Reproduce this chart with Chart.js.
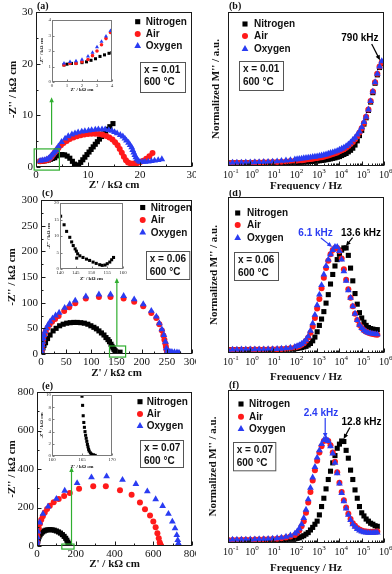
<!DOCTYPE html>
<html>
<head>
<meta charset="utf-8">
<script src="https://cdn.jsdelivr.net/npm/chart.js@4.4.1/dist/chart.umd.min.js"></script>
<style>
  body { margin: 0; background: #fff; }
  #wrap { position: relative; width: 392px; height: 574px; overflow: hidden; background: #fff; }
  #wrap canvas { position: absolute; }
</style>
</head>
<body>
<div id="wrap"></div>
<script>
// ====== DATA: Nyquist plots (Z' , -Z'' in kOhm cm) ======
// (a) x = 0.01
const a_nitrogen_x = [0.8,1.2,1.6,2.0,2.4,2.8,3.2,3.6,4.0,4.5,5.0,5.5,6.0,6.5,7.0,7.4,7.8,8.2,8.6,9.0,9.4,9.8,10.2,10.6,11.0,11.4,11.8,12.2,12.6,13.0,13.4,13.8,14.2,14.8];
const a_nitrogen_y = [1.1,1.15,1.2,1.25,1.35,1.5,1.65,1.8,2.15,2.35,2.4,2.35,2.1,1.7,1.1,0.55,0.1,0.4,0.9,1.4,1.9,2.4,2.9,3.4,3.9,4.4,4.9,5.4,5.9,6.4,6.9,7.3,7.8,8.4];
const a_air_x = [0.8,1.2,1.6,2.0,2.4,2.7,3.0,3.3,3.6,3.9,4.3,4.8,5.3,5.9,6.5,7.2,7.9,8.6,9.3,10.0,10.7,11.4,12.1,12.8,13.5,14.1,14.7,15.2,15.7,16.1,16.5,16.9,17.3,17.7,18.2,18.8,19.4,20.0,20.6,21.2,21.8,22.4];
const a_air_y = [1.1,1.2,1.2,1.3,1.45,1.7,2.0,2.4,2.8,3.2,3.7,4.2,4.65,5.05,5.4,5.7,5.95,6.15,6.3,6.4,6.45,6.45,6.4,6.25,6.0,5.7,5.3,4.8,4.2,3.5,2.75,2.0,1.3,0.85,0.7,0.7,0.75,0.9,1.2,1.6,2.1,2.7];
const a_oxygen_x = [0.8,1.2,1.6,2.0,2.4,2.7,3.0,3.3,3.6,3.9,4.3,4.9,5.6,6.2,6.9,7.5,8.1,8.8,9.4,10.1,10.7,11.4,12.0,12.7,13.3,14.0,14.6,15.1,15.6,16.2,16.7,17.1,17.4,17.8,18.1,18.4,18.6,18.8,19.0,19.2,19.4,19.7,20.0,20.5,21.0,21.6,22.2,22.8,23.5,24.2];
const a_oxygen_y = [1.2,1.3,1.35,1.45,1.65,1.9,2.25,2.6,2.95,3.3,4.0,4.85,5.5,5.95,6.3,6.5,6.7,6.85,6.95,7.05,7.15,7.25,7.3,7.3,7.3,7.15,7.0,6.75,6.5,6.2,5.9,5.5,5.1,4.7,4.25,3.8,3.3,2.8,2.3,1.9,1.5,1.2,1.0,1.0,1.0,1.05,1.15,1.25,1.35,1.5];
// inset of (a)
const ai_nitrogen_x = [0.8,1.0,1.3,1.6,2.0,2.3,2.6,2.9,3.2,3.5,3.8,4.0];
const ai_nitrogen_y = [1.1,1.15,1.2,1.2,1.25,1.3,1.4,1.5,1.65,1.75,1.85,1.9];
const ai_air_x = [0.8,1.2,1.6,2.0,2.4,2.7,3.0,3.3,3.6,3.9];
const ai_air_y = [1.1,1.2,1.2,1.3,1.45,1.7,2.0,2.4,2.8,3.2];
const ai_oxygen_x = [0.8,1.2,1.6,2.0,2.4,2.7,3.0,3.3,3.6,3.9];
const ai_oxygen_y = [1.2,1.3,1.35,1.45,1.65,1.9,2.25,2.6,2.95,3.3];

// (c) x = 0.06
const c_nitrogen_x = [2,4,6,9,13,18,24,30,37,44,51,58,65,72,79,86,93,99,105,110,115,120,125,129,133,136,139,141,143,145,147,149,151,153,155,157];
const c_nitrogen_y = [6,12,17,22,30,37,45,50,55,58,60,61,61.5,61.5,61,60,58,55,52,49,45,41,37,32,28,24,19,15,12,9,6.5,4,2.5,1.5,2,3.5];
const c_air_x = [1,1.5,2,2.8,3.8,5,7,9.5,13,17,22,28,35,46,56,68,89,115,138,164,185,203,219,229,235,240,243,245,247,248,249,250,251];
const c_air_y = [3,9,15,21,27,33,39,45,51,57,63,68,74,84,91,99,108,111,111,108,102,93,80,70,58,46,36,28,20,14,9,4,1];
const c_oxygen_x = [1.5,2,2.6,3.5,4.5,6,8,10.5,14,18,23,29,36,47,57,68,89,115,138,164,185,203,219,229,235,240,244,247,249,251,253,256,260,265,270,274];
const c_oxygen_y = [4,11,17.5,24,30.5,37,43.5,50,56.5,63,69.5,75,80.5,90,97,104,112,116,116,113,106.5,97,84,73,60,48,37,24,11,6,5,4.5,4,3.5,3,2.5];
// inset of (c)
const ci_nitrogen_x = [140.2,141.3,142.1,143.1,143.7,144.2,144.8,145.2,145.6,145.3,146.3,147.3,148.4,149.4,150.5,151.5,152.6,153.4,154.3,155.0,155.8,156.4,157.0];
const ci_nitrogen_y = [16,13.4,11.4,9.6,8.2,7.1,6.1,5.4,4.6,3.3,4.0,3.5,3.0,2.6,2.1,1.7,1.3,1.1,1.2,1.6,2.1,2.8,3.5];

// (e) x = 0.07
const e_nitrogen_x = [2,4,7,11,16,22,29,37,46,56,67,78,89,100,111,121,131,140,148,154,159,162,164,165.5,166.5];
const e_nitrogen_y = [12,25,37,48,58,66,73,78,82,84,85,84,82,78,73,67,59,50,40,30,20,12,6,2,0.5];
const e_air_x = [0.5,1,2,4,9,15,22,30,40,52,66,86,112,140,169,217,290,355,428,488,531,557,583,600,612,621,628,633,636,638,640];
const e_air_y = [10,20,49,70,92,115,136,155,174,192,209,227,244,260,275,298,310,310,289,266,226,191,158,127,97,66,40,18,8,3,0.5];
const e_oxygen_x = [0.5,1,2,5,14,31,57,100,143,207,281,359,441,510,569,612,648,678,698,712,721,726,729,732,735];
const e_oxygen_y = [12,25,45,75,122,167,205,245,287,327,357,362,344,322,284,243,208,167,127,92,57,31,14,6,1];
// inset of (e)
const ei_nitrogen_x = [165.0,165.1,165.2,165.3,165.4,165.5,165.6,165.7,165.8,165.9,166.0,166.1,166.2,166.4,166.6,166.9,167.2];
const ei_nitrogen_y = [9.8,8.3,6.6,5.5,4.7,4.0,3.4,2.9,2.4,1.9,1.5,1.1,0.8,0.5,0.3,0.2,0.1];

// ====== DATA: normalized M'' spectra ======
const FREQ = [0.1,0.16,0.25,0.4,0.63,1,1.6,2.5,4,6.3,10,16,25,40,63,
  100,126,158,200,251,316,398,501,631,794,
  1000,1260,1580,2000,2510,3160,3980,5010,6310,7940,
  10000,12600,15800,20000,25100,31600,39800,50100,63100,79400,
  100000,126000,158000,200000,251000,316000,398000,501000];
const FREQ_B = [0.1,0.16,0.25,0.4,0.63,1,1.6,2.5,4,6.3,10,16,25,40,63,
  100,126,158,200,251,316,398,501,631,794,
  1000,1260,1580,2000,2510,3160,3980,5010,6310,7940,
  10000,12600,15800,20000,25100,31600,39800,50100,63100,79400,
  100000,126000,158000,200000,251000,316000,398000,501000,631000,794000];

// (b) x = 0.01
const b_nitrogen = [0.028,0.028,0.028,0.028,0.029,0.029,0.029,0.030,0.030,0.030,0.031,0.031,0.032,0.032,0.033,
  0.034,0.035,0.036,0.037,0.038,0.039,0.040,0.042,0.044,0.046,
  0.048,0.050,0.053,0.056,0.060,0.064,0.068,0.073,0.078,0.084,
  0.090,0.100,0.110,0.120,0.135,0.150,0.170,0.200,0.240,0.290,
  0.340,0.400,0.460,0.530,0.610,0.700,0.790,0.870,0.940,0.980];
const b_air = [0.030,0.030,0.031,0.031,0.032,0.032,0.033,0.034,0.035,0.036,0.037,0.039,0.041,0.044,0.047,
  0.050,0.052,0.054,0.056,0.058,0.061,0.064,0.067,0.070,0.073,
  0.076,0.080,0.084,0.089,0.095,0.101,0.108,0.115,0.122,0.130,
  0.140,0.150,0.160,0.175,0.190,0.210,0.230,0.255,0.285,0.320,
  0.360,0.410,0.470,0.540,0.620,0.710,0.800,0.880,0.950,0.990];
const b_oxygen = [0.032,0.032,0.033,0.033,0.034,0.035,0.036,0.037,0.038,0.040,0.042,0.045,0.049,0.053,0.057,
  0.062,0.065,0.068,0.071,0.074,0.077,0.080,0.083,0.086,0.089,
  0.092,0.096,0.100,0.105,0.110,0.117,0.124,0.130,0.137,0.145,
  0.155,0.165,0.175,0.190,0.205,0.225,0.250,0.270,0.300,0.330,
  0.370,0.420,0.470,0.540,0.620,0.710,0.800,0.880,0.950,1.000];

// (d) x = 0.06
const d_nitrogen = [0.030,0.030,0.030,0.030,0.030,0.030,0.031,0.031,0.031,0.032,0.032,0.033,0.034,0.035,0.037,
  0.040,0.043,0.047,0.052,0.057,0.063,0.075,0.090,0.115,0.150,
  0.200,0.260,0.320,0.390,0.470,0.550,0.650,0.740,0.820,0.880,
  0.930,0.970,0.990,0.990,0.920,0.800,0.680,0.560,0.460,0.380,
  0.330,0.290,0.260,0.240,0.230,0.225,0.220,0.220];
const d_air = [0.030,0.030,0.030,0.031,0.031,0.032,0.032,0.033,0.033,0.034,0.035,0.036,0.038,0.040,0.044,
  0.052,0.058,0.066,0.077,0.092,0.115,0.145,0.190,0.250,0.330,
  0.420,0.510,0.610,0.710,0.800,0.870,0.930,0.970,0.990,0.990,
  0.960,0.890,0.790,0.690,0.600,0.520,0.440,0.370,0.310,0.265,
  0.235,0.215,0.200,0.190,0.183,0.178,0.175,0.173];
const d_oxygen = [0.032,0.032,0.032,0.033,0.033,0.034,0.034,0.035,0.035,0.036,0.037,0.038,0.040,0.044,0.050,
  0.058,0.065,0.073,0.085,0.100,0.125,0.157,0.210,0.280,0.360,
  0.450,0.550,0.640,0.740,0.820,0.880,0.930,0.970,1.000,1.000,
  0.960,0.880,0.770,0.680,0.590,0.520,0.440,0.370,0.310,0.265,
  0.235,0.215,0.200,0.190,0.185,0.180,0.178,0.176];

// (f) x = 0.07
const f_nitrogen = [0.020,0.020,0.020,0.021,0.021,0.021,0.022,0.022,0.023,0.024,0.025,0.026,0.028,0.031,0.035,
  0.040,0.045,0.050,0.060,0.070,0.085,0.100,0.125,0.150,0.180,
  0.210,0.270,0.350,0.430,0.520,0.610,0.690,0.770,0.840,0.910,
  0.950,0.980,0.975,0.890,0.815,0.700,0.610,0.510,0.430,0.350,
  0.290,0.260,0.230,0.210,0.190,0.180,0.166,0.160];
const f_air = [0.030,0.030,0.030,0.031,0.031,0.032,0.033,0.034,0.035,0.036,0.038,0.041,0.046,0.053,0.063,
  0.078,0.095,0.120,0.160,0.210,0.290,0.390,0.490,0.600,0.700,
  0.790,0.870,0.930,0.980,0.990,0.980,0.940,0.870,0.780,0.680,
  0.580,0.490,0.410,0.340,0.280,0.230,0.190,0.165,0.145,0.130,
  0.120,0.113,0.110,0.108,0.107,0.107,0.108,0.110];
const f_oxygen = [0.032,0.032,0.032,0.033,0.033,0.034,0.035,0.036,0.037,0.039,0.042,0.046,0.052,0.060,0.072,
  0.090,0.110,0.140,0.180,0.240,0.320,0.420,0.530,0.630,0.730,
  0.820,0.890,0.950,0.990,1.000,0.980,0.930,0.860,0.770,0.670,
  0.570,0.480,0.400,0.330,0.270,0.220,0.180,0.155,0.135,0.120,
  0.110,0.103,0.100,0.098,0.097,0.098,0.100,0.100];

// ====== STYLE ======
const SERIF = '"Liberation Serif", "Times New Roman", serif';
const SANS = '"Liberation Sans", Arial, sans-serif';
const BLACK = "#000000", RED = "#ff1a1a", BLUE = "#2a3cf2", GREEN = "#2fae2f";
const NAMES = ["Nitrogen", "Air", "Oxygen"];
const MARK = {
  Nitrogen: { style: "rect", color: BLACK, r: 3.6, order: 3 },
  Air: { style: "circle", color: RED, r: 3.0, order: 2 },
  Oxygen: { style: "triangle", color: BLUE, r: 3.9, order: 1 }
};
const Z2 = "-Z'' / k\u03A9 cm", Z1 = "Z' / k\u03A9 cm";
const MT = "Normalized M'' / a.u.", FT = "Frequency / Hz";

function series(name, xs, ys, k) {
  const m = MARK[name];
  k = k || 1;
  return {
    label: name,
    data: xs.map((x, i) => ({ x: x, y: ys[i] })),
    pointStyle: m.style, pointRadius: m.r * k, pointHoverRadius: m.r * k,
    backgroundColor: m.color, borderColor: m.color, borderWidth: 0,
    showLine: false, order: m.order
  };
}

function drawMark(ctx, name, x, y, k) {
  const m = MARK[name], r = m.r * (k || 1);
  ctx.fillStyle = m.color;
  ctx.beginPath();
  if (m.style === "rect") {
    const s = r * Math.SQRT1_2;
    ctx.rect(x - s, y - s, 2 * s, 2 * s);
  } else if (m.style === "circle") {
    ctx.arc(x, y, r, 0, Math.PI * 2);
  } else {
    let a = 0;
    ctx.moveTo(x + Math.sin(a) * r, y - Math.cos(a) * r);
    a += Math.PI * 2 / 3;
    ctx.lineTo(x + Math.sin(a) * r, y - Math.cos(a) * r);
    a += Math.PI * 2 / 3;
    ctx.lineTo(x + Math.sin(a) * r, y - Math.cos(a) * r);
    ctx.closePath();
  }
  ctx.fill();
}

function arrow(ctx, x0, y0, x1, y1, color, h) {
  const a = Math.atan2(y1 - y0, x1 - x0);
  h = h || 5;
  ctx.strokeStyle = color;
  ctx.fillStyle = color;
  ctx.lineWidth = 1.2;
  ctx.beginPath();
  ctx.moveTo(x0, y0);
  ctx.lineTo(x1 - Math.cos(a) * h * 0.8, y1 - Math.sin(a) * h * 0.8);
  ctx.stroke();
  ctx.beginPath();
  ctx.moveTo(x1, y1);
  ctx.lineTo(x1 - h * Math.cos(a) + h * 0.45 * Math.sin(a), y1 - h * Math.sin(a) - h * 0.45 * Math.cos(a));
  ctx.lineTo(x1 - h * Math.cos(a) - h * 0.45 * Math.sin(a), y1 - h * Math.sin(a) + h * 0.45 * Math.cos(a));
  ctx.closePath();
  ctx.fill();
}

function tickList(a) {
  const out = [];
  if (a.log) {
    for (let e = a.dec[0]; e <= a.dec[1]; e++) {
      out.push([Math.pow(10, e), true]);
      if (e < a.dec[1]) for (let k = 2; k < 10; k++) out.push([k * Math.pow(10, e), false]);
    }
  } else {
    (a.ticks || []).forEach(v => out.push([v, true]));
    (a.minor || []).forEach(v => out.push([v, false]));
  }
  return out;
}

// ====== DECORATION PLUGIN ======
function decor(cfg) {
  return {
    id: "decor",
    afterDraw(chart) {
      const ctx = chart.ctx, A = chart.chartArea;
      const sx = chart.scales.x, sy = chart.scales.y;
      const ox = cfg.region.x, oy = cfg.region.y;
      const ins = !!cfg.inset;
      const L = Math.round(A.left) + 0.5, T = Math.round(A.top) + 0.5;
      const R = Math.round(A.right) - 0.5, B = Math.round(A.bottom) - 0.5;
      ctx.save();

      // frame + inward ticks
      ctx.strokeStyle = ins ? "#7a7a7a" : "#1a1a1a";
      ctx.lineWidth = 1;
      ctx.strokeRect(L, T, R - L, B - T);
      const tk = ins ? [2, 1] : [4, 2];
      ctx.beginPath();
      tickList(cfg.x).forEach(([v, major]) => {
        const p = Math.round(sx.getPixelForValue(v)) + 0.5;
        if (p < L - 1 || p > R + 1) return;
        ctx.moveTo(p, B); ctx.lineTo(p, B - (major ? tk[0] : tk[1]));
      });
      if (!cfg.y.bare) tickList(cfg.y).forEach(([v, major]) => {
        const p = Math.round(sy.getPixelForValue(v)) + 0.5;
        ctx.moveTo(L, p); ctx.lineTo(L + (major ? tk[0] : tk[1]), p);
      });
      ctx.stroke();

      // log tick labels 10^n
      if (cfg.x.log) {
        ctx.fillStyle = "#111";
        ctx.textBaseline = "alphabetic";
        for (let e = cfg.x.dec[0]; e <= cfg.x.dec[1]; e++) {
          const p = sx.getPixelForValue(Math.pow(10, e));
          ctx.font = "10px " + SERIF;
          const w = ctx.measureText("10").width;
          ctx.textAlign = "center";
          ctx.fillText("10", p, B + 12.5);
          ctx.font = "7px " + SERIF;
          ctx.textAlign = "left";
          ctx.fillText(String(e), p + w / 2, B + 7.5);
        }
      }

      // axis titles
      ctx.fillStyle = "#111";
      ctx.textAlign = "center";
      ctx.textBaseline = "middle";
      ctx.font = (ins ? "bold 5px " : "bold 11px ") + SERIF;
      ctx.fillText(cfg.xTitle[0], (A.left + A.right) / 2, cfg.xTitle[1] - oy);
      ctx.save();
      ctx.translate(cfg.yTitle[1] - ox, (A.top + A.bottom) / 2);
      ctx.rotate(-Math.PI / 2);
      ctx.fillText(cfg.yTitle[0], 0, 0);
      ctx.restore();

      // panel tag
      if (cfg.tag) {
        ctx.font = "bold 10px " + SERIF;
        ctx.textAlign = "left";
        ctx.fillText(cfg.tag[0], cfg.tag[1] - ox, cfg.tag[2] - oy);
      }

      // legend
      if (cfg.legend) {
        const lg = cfg.legend;
        ctx.font = "bold 10px " + SANS;
        ctx.textAlign = "left";
        NAMES.forEach((n, i) => {
          drawMark(ctx, n, lg.mx - ox, lg.rows[i] - oy);
          ctx.fillStyle = "#111";
          ctx.fillText(n, lg.tx - ox, lg.rows[i] - oy + 0.5);
        });
      }

      // info box
      if (cfg.box) {
        const bx = cfg.box;
        ctx.strokeStyle = "#555";
        ctx.lineWidth = 1;
        ctx.strokeRect(Math.round(bx.x - ox) + 0.5, Math.round(bx.y - oy) + 0.5, bx.w, bx.h);
        ctx.fillStyle = "#111";
        ctx.font = "bold 10px " + SANS;
        ctx.textAlign = "left";
        bx.lines.forEach((t, i) => ctx.fillText(t, bx.x - ox + 4, bx.ly[i] - oy));
      }

      // peak annotations (data coordinates)
      (cfg.notes || []).forEach(n => {
        ctx.font = "bold 10px " + SANS;
        ctx.textAlign = "center";
        ctx.fillStyle = n.color;
        ctx.fillText(n.text, sx.getPixelForValue(n.at[0]), sy.getPixelForValue(n.at[1]));
        arrow(ctx, sx.getPixelForValue(n.from[0]), sy.getPixelForValue(n.from[1]),
          sx.getPixelForValue(n.to[0]), sy.getPixelForValue(n.to[1]), n.color, 5);
      });

      // zoom marker: green box + arrow up to the inset
      if (cfg.zoom) {
        const z = cfg.zoom;
        const x0 = sx.getPixelForValue(z.box[0]), x1 = sx.getPixelForValue(z.box[1]);
        const y0 = sy.getPixelForValue(z.box[2]), y1 = sy.getPixelForValue(z.box[3]);
        ctx.strokeStyle = GREEN;
        ctx.lineWidth = 1.2;
        ctx.strokeRect(x0, y1, x1 - x0, y0 - y1);
        arrow(ctx, sx.getPixelForValue(z.arrow[0]), sy.getPixelForValue(z.arrow[1]),
          sx.getPixelForValue(z.arrow[0]), sy.getPixelForValue(z.arrow[2]), GREEN, 5);
      }
      ctx.restore();
    }
  };
}

// ====== CHART FACTORY ======
const WRAP = document.getElementById("wrap");

function axis(a, fit, ins) {
  return {
    type: a.log ? "logarithmic" : "linear",
    min: a.min, max: a.max,
    grid: { display: false, drawTicks: false, tickLength: 0 }, border: { display: false },
    ticks: {
      display: !a.log && !a.bare,
      font: { family: SERIF, size: ins ? 5 : 11 },
      color: ins ? "#333" : "#111",
      padding: ins ? 1 : (a.pad || 2),
      autoSkip: false, maxRotation: 0
    },
    afterBuildTicks: s => {
      const v = a.log ? [] : (a.ticks || []);
      if (a.log) for (let e = a.dec[0]; e <= a.dec[1]; e++) v.push(Math.pow(10, e));
      s.ticks = v.map(t => ({ value: t }));
    },
    afterFit: s => {
      fit(s);
      s.paddingLeft = 0; s.paddingRight = 0; s.paddingTop = 0; s.paddingBottom = 0;
    }
  };
}

function panel(cfg) {
  const Rg = cfg.region, P = cfg.plot;
  const c = document.createElement("canvas");
  c.width = Rg.w; c.height = Rg.h;
  c.style.left = Rg.x + "px"; c.style.top = Rg.y + "px";
  c.style.width = Rg.w + "px"; c.style.height = Rg.h + "px";
  WRAP.appendChild(c);
  return new Chart(c, {
    type: "scatter",
    data: { datasets: cfg.datasets },
    options: {
      responsive: false, animation: false, events: [],
      layout: { padding: { left: 0, top: P.t - Rg.y, right: Rg.x + Rg.w - P.r, bottom: 0 } },
      plugins: { legend: { display: false }, tooltip: { enabled: false } },
      scales: {
        x: axis(cfg.x, s => { s.height = Rg.y + Rg.h - P.b; }, cfg.inset),
        y: axis(cfg.y, s => { s.width = P.l - Rg.x; }, cfg.inset)
      }
    },
    plugins: [decor(cfg)]
  });
}

const LOGX = { log: true, min: 0.1, max: 1e6, dec: [-1, 6] };
const MY = { min: 0, max: 1.47, bare: true };

// ====== (a) ======
panel({
  region: { x: 0, y: 0, w: 196, h: 190 }, plot: { l: 36, t: 12, r: 192, b: 167 },
  x: { min: 0, max: 30, ticks: [0, 10, 20, 30], minor: [5, 15, 25] },
  y: { min: 0, max: 30, ticks: [0, 10, 20, 30], minor: [5, 15, 25], pad: 3 },
  datasets: [series("Nitrogen", a_nitrogen_x, a_nitrogen_y), series("Air", a_air_x, a_air_y), series("Oxygen", a_oxygen_x, a_oxygen_y)],
  xTitle: [Z1, 185], yTitle: [Z2, 13], tag: ["(a)", 37, 6],
  legend: { mx: 137.7, tx: 145.7, rows: [21.7, 34, 46] },
  box: { x: 140, y: 62, w: 45, h: 30, lines: ["x = 0.01", "600 \u00B0C"], ly: [70.5, 82.5] },
  zoom: { box: [-0.35, 4.5, -0.6, 3.5], arrow: [3, 4.3, 13.5] }
});

// ====== (b) ======
panel({
  region: { x: 196, y: 0, w: 196, h: 190 }, plot: { l: 228, t: 12, r: 384, b: 166 },
  x: LOGX, y: MY,
  datasets: [series("Nitrogen", FREQ_B, b_nitrogen), series("Air", FREQ_B, b_air), series("Oxygen", FREQ_B, b_oxygen)],
  xTitle: [FT, 186], yTitle: [MT, 216], tag: ["(b)", 229, 6],
  legend: { mx: 245, tx: 254, rows: [24, 36, 49] },
  box: { x: 239, y: 61, w: 44, h: 29, lines: ["x = 0.01", "600 \u00B0C"], ly: [69.5, 82] },
  notes: [{ text: "790 kHz", color: BLACK, at: [8.3e4, 1.22], from: [2.8e5, 1.165], to: [6.6e5, 1.01] }]
});

// ====== (c) ======
panel({
  region: { x: 0, y: 190, w: 196, h: 190 }, plot: { l: 41, t: 200, r: 195, b: 354 },
  x: { min: 0, max: 300, ticks: [0, 50, 100, 150, 200, 250, 300], minor: [25, 75, 125, 175, 225, 275] },
  y: { min: 0, max: 300, ticks: [0, 50, 100, 150, 200, 250, 300], minor: [25, 75, 125, 175, 225, 275], pad: 3 },
  datasets: [series("Nitrogen", c_nitrogen_x, c_nitrogen_y), series("Air", c_air_x, c_air_y), series("Oxygen", c_oxygen_x, c_oxygen_y)],
  xTitle: [Z1, 373], yTitle: [Z2, 12], tag: ["(c)", 42, 193],
  legend: { mx: 142.7, tx: 150.7, rows: [207.5, 220, 232.5] },
  box: { x: 145.7, y: 251, w: 43.3, h: 28, lines: ["x = 0.06", "600 \u00B0C"], ly: [259, 272] },
  zoom: { box: [136, 168, -6, 15.6], arrow: [150.6, 16, 148] }
});

// ====== (d) ======
panel({
  region: { x: 196, y: 190, w: 196, h: 190 }, plot: { l: 228, t: 197, r: 384, b: 353 },
  x: LOGX, y: MY,
  datasets: [series("Nitrogen", FREQ, d_nitrogen), series("Air", FREQ, d_air), series("Oxygen", FREQ, d_oxygen)],
  xTitle: [FT, 377], yTitle: [MT, 214], tag: ["(d)", 229, 193],
  legend: { mx: 237.7, tx: 247, rows: [213, 225, 238] },
  box: { x: 234, y: 252, w: 44, h: 28, lines: ["x = 0.06", "600 \u00B0C"], ly: [260, 273] },
  notes: [
    { text: "6.1 kHz", color: BLUE, at: [850, 1.13], from: [1480, 1.084], to: [4700, 1.0] },
    { text: "13.6 kHz", color: BLACK, at: [9.3e4, 1.13], from: [3.9e4, 1.087], to: [1.95e4, 1.008] }
  ]
});

// ====== (e) ======
panel({
  region: { x: 0, y: 380, w: 196, h: 194 }, plot: { l: 37, t: 392, r: 193, b: 546 },
  x: { min: 0, max: 800, ticks: [0, 200, 400, 600, 800], minor: [100, 300, 500, 700] },
  y: { min: 0, max: 800, ticks: [0, 200, 400, 600, 800], minor: [100, 300, 500, 700], pad: 3 },
  datasets: [series("Nitrogen", e_nitrogen_x, e_nitrogen_y), series("Air", e_air_x, e_air_y), series("Oxygen", e_oxygen_x, e_oxygen_y)],
  xTitle: [Z1, 564], yTitle: [Z2, 12], tag: ["(e)", 42, 386],
  legend: { mx: 140, tx: 146.7, rows: [401.7, 414, 426] },
  box: { x: 140, y: 440, w: 43, h: 27, lines: ["x = 0.07", "600 \u00B0C"], ly: [448, 461] },
  zoom: { box: [128, 191, -16, 10], arrow: [178, 10, 410] }
});

// ====== (f) ======
panel({
  region: { x: 196, y: 380, w: 196, h: 194 }, plot: { l: 228, t: 390, r: 384, b: 543 },
  x: LOGX, y: MY,
  datasets: [series("Nitrogen", FREQ, f_nitrogen), series("Air", FREQ, f_air), series("Oxygen", FREQ, f_oxygen)],
  xTitle: [FT, 568], yTitle: [MT, 213], tag: ["(f)", 229, 385],
  legend: { mx: 241, tx: 249, rows: [404, 416.7, 429] },
  box: { x: 232.7, y: 441.7, w: 42.3, h: 28.3, lines: ["x = 0.07", "600 \u00B0C"], ly: [450, 463] },
  notes: [
    { text: "2.4 kHz", color: BLUE, at: [1480, 1.25], from: [2300, 1.2], to: [2300, 1.01] },
    { text: "12.8 kHz", color: BLACK, at: [9.8e4, 1.16], from: [2.95e4, 1.11], to: [1.55e4, 1.0] }
  ]
});

// ====== INSETS ======
panel({
  inset: true,
  region: { x: 36, y: 16, w: 80, h: 80 }, plot: { l: 52, t: 20, r: 112, b: 82 },
  x: { min: 0, max: 4, ticks: [0, 1, 2, 3, 4] },
  y: { min: 0, max: 4, ticks: [0, 1, 2, 3, 4] },
  datasets: [series("Nitrogen", ai_nitrogen_x, ai_nitrogen_y, 0.6), series("Air", ai_air_x, ai_air_y, 0.6), series("Oxygen", ai_oxygen_x, ai_oxygen_y, 0.6)],
  xTitle: [Z1, 90], yTitle: [Z2, 42]
});

panel({
  inset: true,
  region: { x: 44, y: 199, w: 83, h: 87 }, plot: { l: 60, t: 203, r: 123, b: 269 },
  x: { min: 140, max: 160, ticks: [140, 145, 150, 155, 160] },
  y: { min: 0, max: 20, ticks: [0, 5, 10, 15, 20] },
  datasets: [series("Nitrogen", ci_nitrogen_x, ci_nitrogen_y, 0.6)],
  xTitle: [Z1, 279], yTitle: [Z2, 49]
});

panel({
  inset: true,
  region: { x: 36, y: 391, w: 80, h: 82 }, plot: { l: 52, t: 395, r: 112, b: 456 },
  x: { min: 160, max: 170, ticks: [160, 165, 170] },
  y: { min: 0, max: 10, ticks: [0, 2, 4, 6, 8, 10] },
  datasets: [series("Nitrogen", ei_nitrogen_x, ei_nitrogen_y, 0.6)],
  xTitle: [Z1, 467], yTitle: [Z2, 42]
});
</script>
</body>
</html>
